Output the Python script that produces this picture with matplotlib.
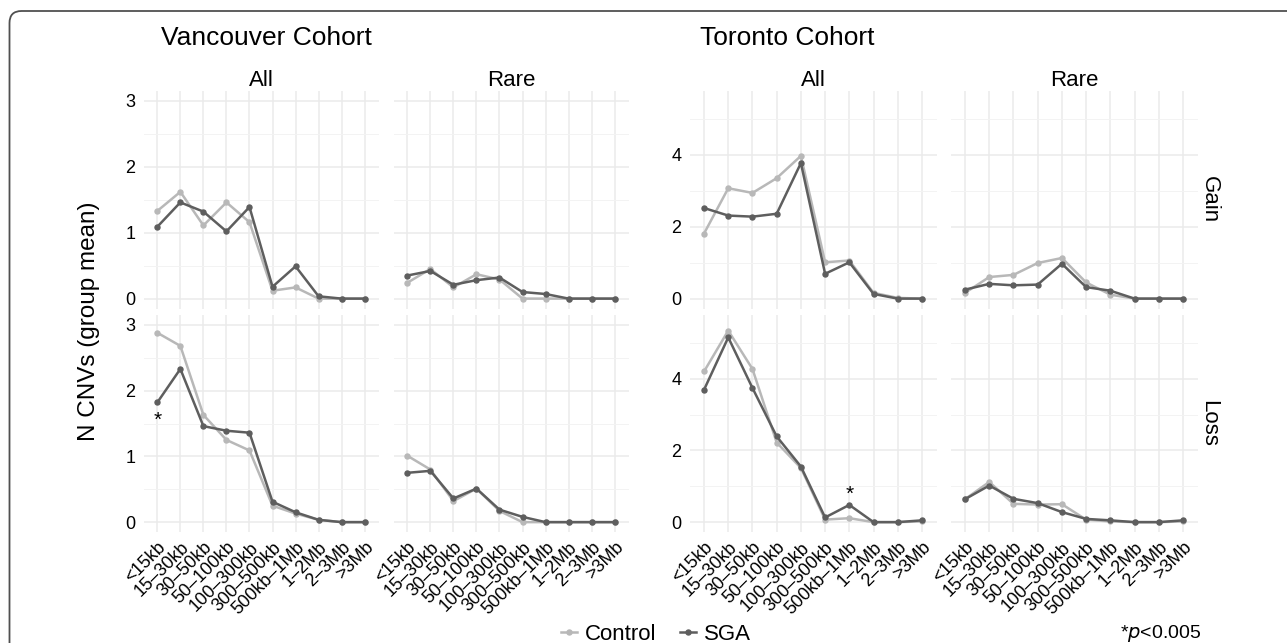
import matplotlib
matplotlib.use("Agg")
import matplotlib.pyplot as plt
from matplotlib.patches import FancyBboxPatch
from matplotlib.lines import Line2D
from matplotlib.transforms import IdentityTransform

plt.rcParams['font.family'] = ['Liberation Sans', 'DejaVu Sans']

# ---------------- data ----------------
size_bins = ["<15kb", "15–30kb", "30–50kb", "50–100kb", "100–300kb",
             "300–500kb", "500kb–1Mb", "1–2Mb", "2–3Mb", ">3Mb"]

# Vancouver cohort
van_gain_all_control = [1.33, 1.62, 1.11, 1.46, 1.16, 0.12, 0.17, 0.00, 0.00, 0.00]
van_gain_all_sga     = [1.09, 1.46, 1.32, 1.02, 1.39, 0.18, 0.49, 0.035, 0.00, 0.00]
van_gain_rare_control = [0.24, 0.45, 0.17, 0.37, 0.29, 0.00, 0.00, 0.00, 0.00, 0.00]
van_gain_rare_sga     = [0.35, 0.42, 0.21, 0.28, 0.32, 0.10, 0.07, 0.00, 0.00, 0.00]
van_loss_all_control = [2.88, 2.68, 1.63, 1.25, 1.09, 0.25, 0.13, 0.035, 0.00, 0.00]
van_loss_all_sga     = [1.82, 2.33, 1.46, 1.39, 1.36, 0.31, 0.15, 0.035, 0.00, 0.00]
van_loss_rare_control = [1.01, 0.80, 0.32, 0.51, 0.17, 0.00, 0.00, 0.00, 0.00, 0.00]
van_loss_rare_sga     = [0.75, 0.78, 0.36, 0.51, 0.19, 0.08, 0.00, 0.00, 0.00, 0.00]

# Toronto cohort
tor_gain_all_control = [1.81, 3.07, 2.94, 3.35, 3.97, 1.01, 1.06, 0.16, 0.02, 0.00]
tor_gain_all_sga     = [2.52, 2.31, 2.28, 2.36, 3.77, 0.69, 1.01, 0.13, 0.00, 0.00]
tor_gain_rare_control = [0.16, 0.60, 0.66, 0.99, 1.13, 0.45, 0.11, 0.00, 0.00, 0.00]
tor_gain_rare_sga     = [0.25, 0.41, 0.37, 0.39, 0.97, 0.32, 0.22, 0.00, 0.00, 0.00]
tor_loss_all_control = [4.20, 5.34, 4.27, 2.22, 1.51, 0.07, 0.11, 0.00, 0.00, 0.02]
tor_loss_all_sga     = [3.69, 5.15, 3.74, 2.39, 1.55, 0.13, 0.48, 0.00, 0.00, 0.05]
tor_loss_rare_control = [0.64, 1.12, 0.51, 0.49, 0.50, 0.07, 0.02, 0.00, 0.00, 0.02]
tor_loss_rare_sga     = [0.64, 1.02, 0.65, 0.53, 0.28, 0.09, 0.05, 0.00, 0.00, 0.05]

# significance marks: (bin index, y value)
van_loss_all_star = (0, 1.55)
tor_loss_all_star = (6, 0.78)

# ---------------- style ----------------
C_CONTROL = "#b8b8b8"
C_SGA = "#5e5e5e"
LW = 1.8
MS = 3.6
TICK_FS = 13
STRIP_FS = 16
TITLE_FS = 19

W, H = 1287, 643
fig = plt.figure(figsize=(W / 100, H / 100), dpi=100)

# rounded border (pixel coordinates, origin bottom-left)
border = FancyBboxPatch((9.5, -60), 1400, (H - 11) + 60,
                        boxstyle="round,pad=0,rounding_size=12",
                        transform=IdentityTransform(), fill=False,
                        edgecolor="#505050", linewidth=1.3)
fig.patches.append(border)


def add_ax(x0, x1, y0, y1):
    return fig.add_axes([x0 / W, 1 - y1 / H, (x1 - x0) / W, (y1 - y0) / H])


def panel(ax, control, sga, ymax, major, minor, show_x, show_y):
    x = list(range(len(size_bins)))
    ax.plot(x, control, color=C_CONTROL, lw=LW, marker='o', ms=MS, zorder=3,
            solid_joinstyle='round')
    ax.plot(x, sga, color=C_SGA, lw=LW, marker='o', ms=MS, zorder=4,
            solid_joinstyle='round')
    ax.set_xlim(-0.6, len(size_bins) - 1 + 0.6)
    ax.set_ylim(-0.05 * ymax, ymax * 1.05)
    ax.set_xticks(x)
    ax.set_yticks(major)
    ax.set_yticks(minor, minor=True)
    ax.set_axisbelow(True)
    ax.grid(which='major', color='#ebebeb', lw=1.1)
    ax.grid(which='minor', axis='y', color='#f3f3f3', lw=0.7)
    for s in ax.spines.values():
        s.set_visible(False)
    ax.tick_params(which='both', length=0, labelsize=TICK_FS, pad=5)
    ax.tick_params(axis='y', pad=6)
    if show_x:
        ax.set_xticklabels(size_bins, rotation=45, ha='right',
                           rotation_mode='anchor')
    else:
        ax.set_xticklabels([])
    if not show_y:
        ax.set_yticklabels([])
    ax.set_facecolor('white')


row_y = [(91, 308.5), (315, 532)]
van_x = [(143.5, 378.5), (393.5, 628.5)]
tor_x = [(689.5, 936.5), (950.5, 1197.5)]

van_data = [[(van_gain_all_control, van_gain_all_sga), (van_gain_rare_control, van_gain_rare_sga)],
            [(van_loss_all_control, van_loss_all_sga), (van_loss_rare_control, van_loss_rare_sga)]]
tor_data = [[(tor_gain_all_control, tor_gain_all_sga), (tor_gain_rare_control, tor_gain_rare_sga)],
            [(tor_loss_all_control, tor_loss_all_sga), (tor_loss_rare_control, tor_loss_rare_sga)]]

axes = {}
for r in range(2):
    for c in range(2):
        ax = add_ax(van_x[c][0], van_x[c][1], row_y[r][0], row_y[r][1])
        panel(ax, *van_data[r][c], 3.0, [0, 1, 2, 3], [0.5, 1.5, 2.5],
              r == 1, c == 0)
        axes[('van', r, c)] = ax
        ax = add_ax(tor_x[c][0], tor_x[c][1], row_y[r][0], row_y[r][1])
        panel(ax, *tor_data[r][c], 5.5, [0, 2, 4], [1, 3, 5],
              r == 1, c == 0)
        axes[('tor', r, c)] = ax

# significance asterisks
axes[('van', 1, 0)].text(van_loss_all_star[0], van_loss_all_star[1], "*",
                         ha='center', va='center', fontsize=15, zorder=5)
axes[('tor', 1, 0)].text(tor_loss_all_star[0], tor_loss_all_star[1], "*",
                         ha='center', va='center', fontsize=15, zorder=5)


def ftext(x, y, s, **kw):
    fig.text(x / W, 1 - y / H, s, **kw)


# titles
ftext(161, 38, "Vancouver Cohort", fontsize=TITLE_FS, ha='left', va='center')
ftext(700, 38, "Toronto Cohort", fontsize=TITLE_FS, ha='left', va='center')

# column strips
for (x0, x1), lab in zip(van_x + tor_x, ["All", "Rare", "All", "Rare"]):
    ftext((x0 + x1) / 2, 80, lab, fontsize=STRIP_FS, ha='center', va='center')

# row strips
ftext(1209, (row_y[0][0] + row_y[0][1]) / 2, "Gain", fontsize=STRIP_FS,
      rotation=-90, ha='center', va='center')
ftext(1209, (row_y[1][0] + row_y[1][1]) / 2, "Loss", fontsize=STRIP_FS,
      rotation=-90, ha='center', va='center')

# y label
ftext(89, 321, "N CNVs (group mean)", fontsize=17.5, rotation=90,
      ha='center', va='center')

# legend
handles = [Line2D([], [], color=C_CONTROL, lw=LW, marker='o', ms=MS),
           Line2D([], [], color=C_SGA, lw=LW, marker='o', ms=MS)]
fig.legend(handles, ["Control", "SGA"], loc='center',
           bbox_to_anchor=(656 / W, 1 - 634 / H), ncol=2, frameon=False,
           fontsize=16, handlelength=0.7, handletextpad=0.35,
           columnspacing=1.1, borderpad=0, borderaxespad=0)

# p-value note
ftext(1161, 634, r"*$\it{p}$<0.005", fontsize=14, ha='center', va='center')

fig.savefig("out.png", dpi=100)
